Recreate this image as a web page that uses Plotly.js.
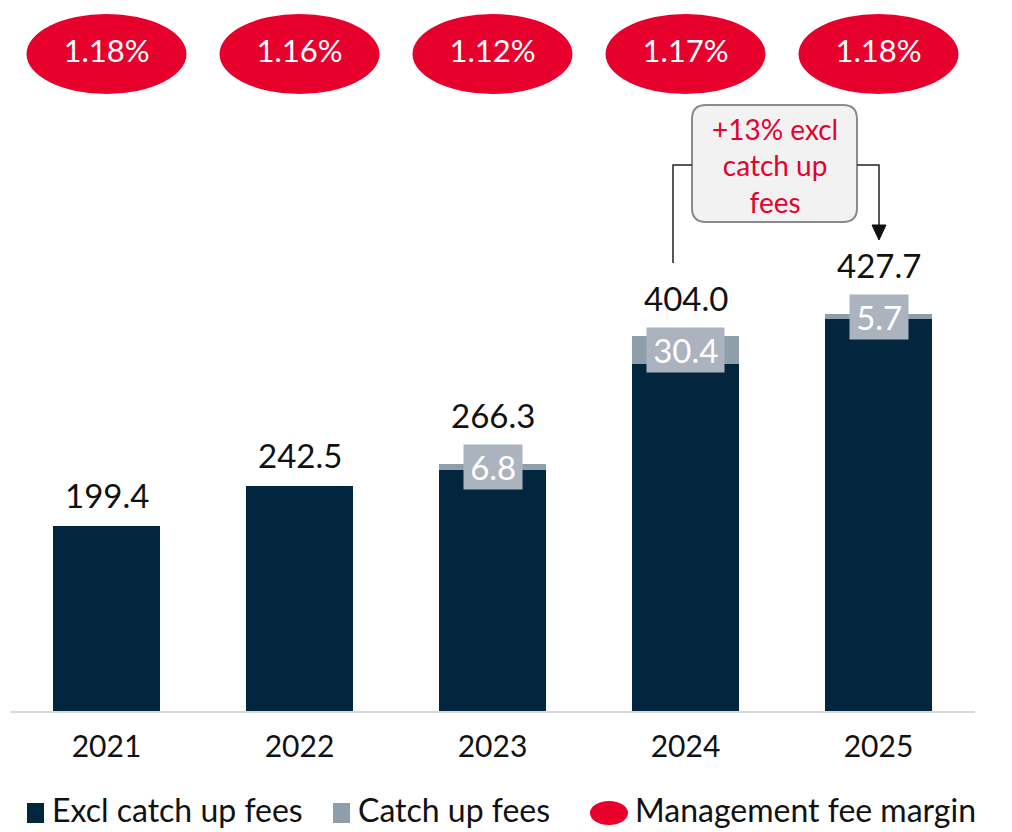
<!DOCTYPE html>
<html>
<head>
<meta charset="utf-8">
<script src="https://cdn.plot.ly/plotly-3.0.1.min.js"></script>
<style>html,body{margin:0;padding:0;background:#fff;}#chart{width:1012px;height:832px;}</style>
</head>
<body>
<div id="chart"></div>
<script>
const years = ['2021', '2022', '2023', '2024', '2025'];
const exclCatchUpFees = [199.4, 242.5, 259.5, 373.6, 422.0];
const catchUpFees = [0, 0, 6.8, 30.4, 5.7];
const totalFees = [199.4, 242.5, 266.3, 404.0, 427.7];
const managementFeeMargin = ['1.18%', '1.16%', '1.12%', '1.17%', '1.18%'];
const seriesNames = ['Excl catch up fees', 'Catch up fees', 'Management fee margin'];
const growthNote = '+13% excl<br>catch up<br>fees';

const DARK = '#03263f', GREY = '#8e9eaa', RED = '#e8002d', LABELBG = '#abb4be';
const FONT = 'Lato, "Open Sans", sans-serif';

// pixel helpers (plot area: left 10, width 965, top 0, height 711)
const L = 10, W = 965, H = 711;
const px = v => (v - L) / W;
const py = v => (H - v) / H;
const catW = W / years.length;
const catCenterPx = i => L + (i + 0.5) * catW;

const traces = [
  { type: 'bar', x: years, y: exclCatchUpFees, name: seriesNames[0],
    marker: { color: DARK }, hoverinfo: 'skip', showlegend: false },
  { type: 'bar', x: years, y: catchUpFees, name: seriesNames[1],
    marker: { color: GREY }, hoverinfo: 'skip', showlegend: false },
  { type: 'scatter', x: years, y: years.map(() => 0.5), yaxis: 'y2',
    mode: 'markers+text', text: managementFeeMargin, textposition: 'middle center',
    textfont: { family: FONT, size: 31, color: '#ffffff' },
    marker: { size: 76, color: RED }, name: seriesNames[2],
    hoverinfo: 'skip', showlegend: false, cliponaxis: false }
];

const annotations = [];
const shapes = [];

years.forEach((yr, i) => {
  const c = catCenterPx(i);
  // management fee ellipse
  shapes.push({ type: 'circle', xref: 'paper', yref: 'paper', layer: 'below',
    x0: px(c - 80), x1: px(c + 80), y0: py(94), y1: py(14),
    fillcolor: RED, line: { width: 0 } });
  if (catchUpFees[i] > 0) {
    const mid = exclCatchUpFees[i] + catchUpFees[i] / 2;
    annotations.push({ x: i, y: mid, xref: 'x', yref: 'y', showarrow: false,
      xanchor: 'center', yanchor: 'middle',
      text: '\u2009' + catchUpFees[i].toFixed(1) + '\u2009', bgcolor: LABELBG, borderpad: 2,
      font: { family: FONT, size: 33, color: '#ffffff' } });
    annotations.push({ x: i, y: mid, xref: 'x', yref: 'y', showarrow: false, yshift: 52,
      xanchor: 'center', yanchor: 'middle',
      text: totalFees[i].toFixed(1), font: { family: FONT, size: 33, color: '#111111' } });
  } else {
    annotations.push({ x: i, y: totalFees[i], xref: 'x', yref: 'y', showarrow: false, yshift: 31,
      xanchor: 'center', yanchor: 'middle',
      text: totalFees[i].toFixed(1), font: { family: FONT, size: 33, color: '#111111' } });
  }
});

// growth note box with rounded corners
(function () {
  const x0 = 692, x1 = 857, y0 = 105, y1 = 222, r = 14;
  const path = 'M' + px(x0 + r) + ',' + py(y0) +
    'L' + px(x1 - r) + ',' + py(y0) +
    'Q' + px(x1) + ',' + py(y0) + ' ' + px(x1) + ',' + py(y0 + r) +
    'L' + px(x1) + ',' + py(y1 - r) +
    'Q' + px(x1) + ',' + py(y1) + ' ' + px(x1 - r) + ',' + py(y1) +
    'L' + px(x0 + r) + ',' + py(y1) +
    'Q' + px(x0) + ',' + py(y1) + ' ' + px(x0) + ',' + py(y1 - r) +
    'L' + px(x0) + ',' + py(y0 + r) +
    'Q' + px(x0) + ',' + py(y0) + ' ' + px(x0 + r) + ',' + py(y0) + 'Z';
  shapes.push({ type: 'path', xref: 'paper', yref: 'paper', path: path,
    fillcolor: '#f2f2f2', line: { color: '#8a8a8a', width: 2 } });
  annotations.push({ xref: 'paper', yref: 'paper', x: px((x0 + x1) / 2), y: py((y0 + y1) / 2 + 2),
    xanchor: 'center', yanchor: 'middle',
    showarrow: false, text: growthNote, align: 'center',
    font: { family: FONT, size: 28, color: RED } });
  // left connector
  shapes.push({ type: 'path', xref: 'paper', yref: 'paper',
    path: 'M' + px(x0) + ',' + py(165) + 'L' + px(673) + ',' + py(165) + 'L' + px(673) + ',' + py(263),
    line: { color: '#222', width: 1.5 } });
  // right connector
  shapes.push({ type: 'path', xref: 'paper', yref: 'paper',
    path: 'M' + px(x1) + ',' + py(165) + 'L' + px(879) + ',' + py(165) + 'L' + px(879) + ',' + py(226),
    line: { color: '#222', width: 1.5 } });
  shapes.push({ type: 'path', xref: 'paper', yref: 'paper',
    path: 'M' + px(872) + ',' + py(225) + 'L' + px(886) + ',' + py(225) + 'L' + px(879) + ',' + py(240) + 'Z',
    fillcolor: '#111', line: { color: '#111', width: 1 } });
})();

// manual legend
const legY = 813;
shapes.push({ type: 'rect', xref: 'paper', yref: 'paper', x0: px(27), x1: px(44), y0: py(legY + 10), y1: py(legY - 10), fillcolor: DARK, line: { width: 0 } });
shapes.push({ type: 'rect', xref: 'paper', yref: 'paper', x0: px(333), x1: px(350), y0: py(legY + 10), y1: py(legY - 10), fillcolor: GREY, line: { width: 0 } });
shapes.push({ type: 'circle', xref: 'paper', yref: 'paper', x0: px(590), x1: px(628), y0: py(legY + 12), y1: py(legY - 12), fillcolor: RED, line: { width: 0 } });
[[50, 0], [356, 1], [633, 2]].forEach(([xp, k]) => {
  annotations.push({ xref: 'paper', yref: 'paper', x: px(xp), y: py(831), xanchor: 'left', yanchor: 'bottom',
    showarrow: false, text: seriesNames[k], font: { family: FONT, size: 32, color: '#111111' } });
});

const layout = {
  width: 1012, height: 832,
  margin: { l: L, r: 1012 - L - W, t: 0, b: 832 - H },
  paper_bgcolor: '#ffffff', plot_bgcolor: '#ffffff',
  barmode: 'stack', bargap: 0.445,
  showlegend: false,
  font: { family: FONT, color: '#111111' },
  xaxis: { type: 'category', categoryorder: 'array', categoryarray: years,
    range: [-0.5, years.length - 0.5], autorange: false,
    showgrid: false, zeroline: false, showline: true,
    linecolor: '#d9d9d9', linewidth: 2, ticks: '', ticklabelstandoff: 8,
    tickfont: { family: FONT, size: 30, color: '#111111' }, fixedrange: true },
  yaxis: { range: [0, H / 0.928], autorange: false, visible: false, showgrid: false, zeroline: false, fixedrange: true },
  yaxis2: { overlaying: 'y', range: [0, 0.5 / py(54)], autorange: false, visible: false, fixedrange: true },
  shapes: shapes,
  annotations: annotations
};

Plotly.newPlot('chart', traces, layout, { displayModeBar: false, staticPlot: true });
</script>
</body>
</html>
